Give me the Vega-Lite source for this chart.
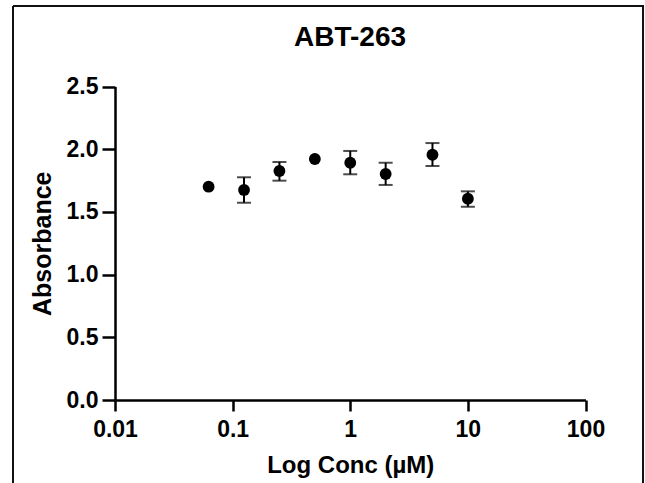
{
  "$schema": "https://vega.github.io/schema/vega-lite/v6.json",
  "width": 630,
  "height": 477,
  "autosize": {"type": "none"},
  "padding": {"left": 13, "top": 6, "right": 2, "bottom": 0},
  "background": "white",
  "title": {
    "text": "ABT-263",
    "font": "Liberation Sans",
    "fontSize": 28,
    "fontWeight": "bold",
    "color": "black",
    "anchor": "middle",
    "frame": "group",
    "offset": -46,
    "dx": 22
  },
  "config": {
    "view": {"stroke": "#111111", "strokeWidth": 2, "strokeDash": [1107, 630, 477, 0]},
    "font": "Liberation Sans"
  },
  "data": {
    "values": [
      {"conc": 0.0625, "abs": 1.701, "lo": null, "hi": null},
      {"conc": 0.125, "abs": 1.675, "lo": 1.573, "hi": 1.776},
      {"conc": 0.25, "abs": 1.826, "lo": 1.749, "hi": 1.898},
      {"conc": 0.5, "abs": 1.922, "lo": null, "hi": null},
      {"conc": 1, "abs": 1.892, "lo": 1.8, "hi": 1.986},
      {"conc": 2, "abs": 1.802, "lo": 1.715, "hi": 1.892},
      {"conc": 5, "abs": 1.956, "lo": 1.866, "hi": 2.049},
      {"conc": 10, "abs": 1.605, "lo": 1.541, "hi": 1.664}
    ]
  },
  "encoding": {
    "x": {
      "field": "conc",
      "type": "quantitative",
      "scale": {"type": "log", "domain": [0.01, 100], "range": [102, 572.5]},
      "axis": {
        "orient": "bottom",
        "offset": -83,
        "values": [0.01, 0.1, 1, 10, 100],
        "format": "~g",
        "grid": false,
        "domainColor": "black",
        "domainWidth": 2.5,
        "tickColor": "black",
        "tickWidth": 2.5,
        "tickSize": 11,
        "labelFont": "Liberation Sans",
        "labelFontSize": 23,
        "labelFontWeight": "bold",
        "labelColor": "black",
        "labelPadding": 7,
        "labelFlush": false,
        "labelOverlap": false,
        "title": "Log Conc (µM)",
        "titleFont": "Liberation Sans",
        "titleFontSize": 24,
        "titleFontWeight": "bold",
        "titleColor": "black",
        "titlePadding": 12
      }
    }
  },
  "layer": [
    {
      "transform": [{"filter": "datum.lo != null"}],
      "mark": {"type": "rule", "color": "black", "strokeWidth": 2},
      "encoding": {
        "y": {"field": "lo", "type": "quantitative"},
        "y2": {"field": "hi"}
      }
    },
    {
      "transform": [{"filter": "datum.lo != null"}],
      "mark": {"type": "tick", "color": "black", "orient": "horizontal", "size": 14, "thickness": 2},
      "encoding": {
        "y": {"field": "lo", "type": "quantitative"}
      }
    },
    {
      "transform": [{"filter": "datum.hi != null"}],
      "mark": {"type": "tick", "color": "black", "orient": "horizontal", "size": 14, "thickness": 2},
      "encoding": {
        "y": {"field": "hi", "type": "quantitative"}
      }
    },
    {
      "mark": {"type": "circle", "color": "black", "opacity": 1, "size": 140},
      "encoding": {
        "y": {
          "field": "abs",
          "type": "quantitative",
          "scale": {"domain": [0, 2.5], "range": [394, 80.5], "nice": false, "zero": true},
          "axis": {
            "orient": "left",
            "offset": -102,
            "values": [0, 0.5, 1, 1.5, 2, 2.5],
            "format": ".1f",
            "grid": false,
            "domainColor": "black",
            "domainWidth": 2.5,
            "tickColor": "black",
            "tickWidth": 2.5,
            "tickSize": 13,
            "labelFont": "Liberation Sans",
            "labelFontSize": 23,
            "labelFontWeight": "bold",
            "labelColor": "black",
            "labelPadding": 4,
            "labelFlush": false,
            "labelOverlap": false,
            "title": "Absorbance",
            "titleFont": "Liberation Sans",
            "titleFontSize": 25,
            "titleFontWeight": "bold",
            "titleColor": "black",
            "titlePadding": 11
          }
        }
      }
    }
  ]
}
